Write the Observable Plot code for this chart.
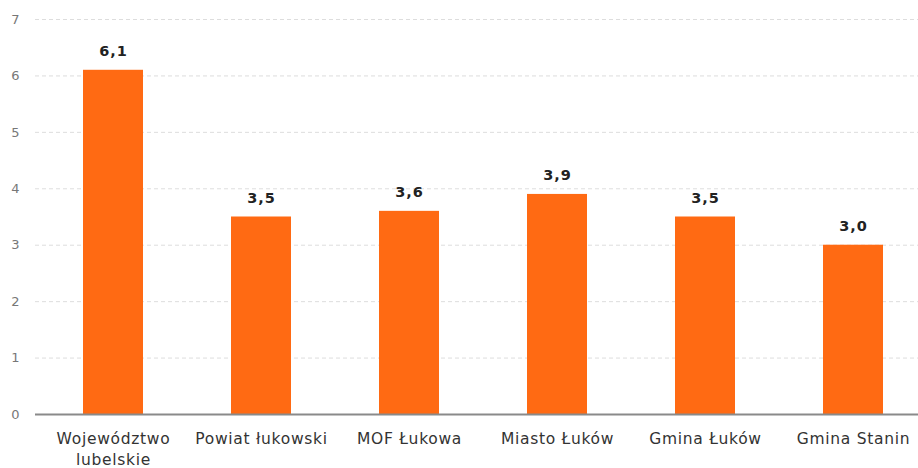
<!DOCTYPE html>
<html><head><meta charset="utf-8">
<script src="https://cdn.jsdelivr.net/npm/d3@7"></script>
<script src="https://cdn.jsdelivr.net/npm/@observablehq/plot@0.6"></script>
<style>body{margin:0;background:#fff;} svg{display:block;} .xlab text{letter-spacing:0.7px;} .vlab text{letter-spacing:1px;}</style>
</head><body><div id="chart"></div>
<script>
const categories = ["Województwo\nlubelskie", "Powiat łukowski", "MOF Łukowa", "Miasto Łuków", "Gmina Łuków", "Gmina Stanin"];
const values = [6.1, 3.5, 3.6, 3.9, 3.5, 3.0];
const valueLabels = ["6,1", "3,5", "3,6", "3,9", "3,5", "3,0"];
const yTicks = [0, 1, 2, 3, 4, 5, 6, 7];

const data = categories.map((c, i) => ({cat: c, value: values[i], label: valueLabels[i]}));

const chart = Plot.plot({
  width: 918,
  height: 468,
  marginLeft: 35,
  marginRight: 0,
  marginTop: 10,
  marginBottom: 54,
  style: {fontFamily: "'DejaVu Sans', sans-serif", background: "#fff"},
  x: {domain: categories, range: [39, 927], paddingInner: 0.595, paddingOuter: 0.2975, label: null},
  y: {domain: [0, 7], range: [414, 19], label: null},
  marks: [
    Plot.gridY(yTicks, {stroke: "#d4d4d4", strokeOpacity: 1, strokeDasharray: "4,3", strokeWidth: 0.8}),
    Plot.barY(data, {x: "cat", y: "value", fill: "#FF6A13"}),
    Plot.ruleY([0], {stroke: "#8a8a8a", strokeWidth: 2}),
    Plot.text(data, {x: "cat", y: "value", text: "label", dy: -19, fontWeight: "bold", fontSize: 14.5, fill: "#222", className: "vlab"}),
    Plot.axisY(yTicks, {tickSize: 0, tickPadding: 16, fontSize: 13, fill: "#777", tickFormat: d => String(d), label: null}),
    Plot.axisX({tickSize: 0, tickPadding: 15, fontSize: 15.5, fill: "#333", lineHeight: 1.35, label: null, className: "xlab"})
  ]
});
document.getElementById("chart").appendChild(chart);
</script>
</body></html>
